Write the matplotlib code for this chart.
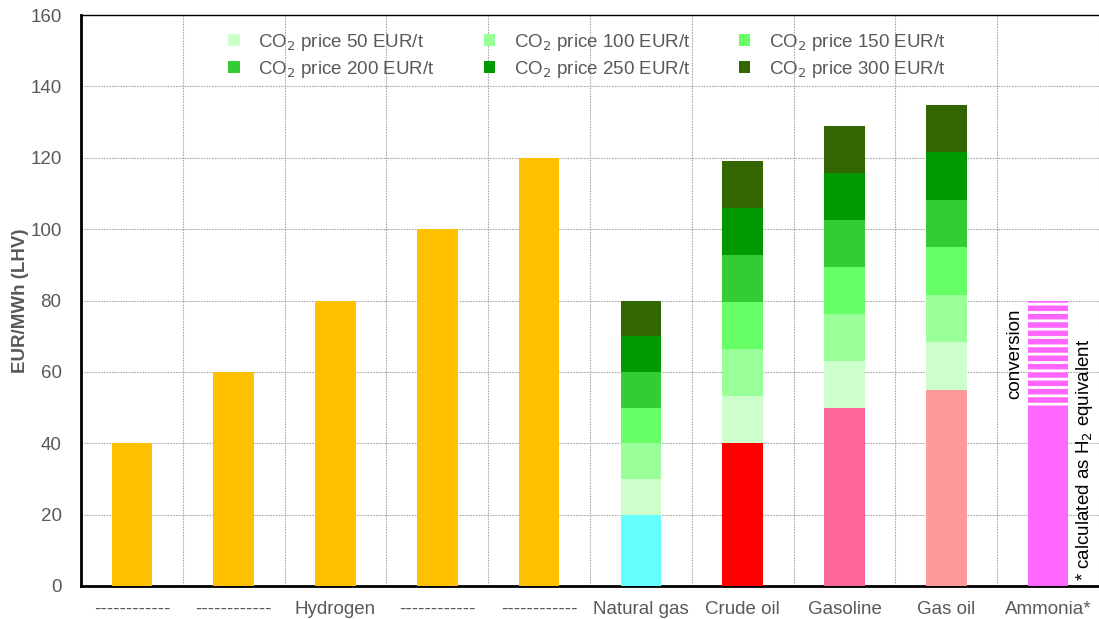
import numpy as np
import matplotlib
matplotlib.use('Agg')
import matplotlib.pyplot as plt

plt.rcParams['font.family'] = ['Liberation Sans', 'DejaVu Sans']
plt.rcParams['hatch.linewidth'] = 2.0

categories = ['------------', '------------', 'Hydrogen', '------------', '------------',
              'Natural gas', 'Crude oil', 'Gasoline', 'Gas oil', 'Ammonia*']

# base cost (EUR/MWh) per category
base = [40, 60, 80, 100, 120, 20, 40, 50, 55, 50]
base_colors = ['#FFC000'] * 5 + ['#66FFFF', '#FF0000', '#FF6699', '#FF9999', '#FF66FF']

# CO2 price add-on per 50 EUR/t step (only fossil fuels)
co2_step = [0, 0, 0, 0, 0, 10.0, 13.2, 13.15, 13.3, 0]
co2_labels = ['CO$_2$ price 50 EUR/t', 'CO$_2$ price 100 EUR/t', 'CO$_2$ price 150 EUR/t',
              'CO$_2$ price 200 EUR/t', 'CO$_2$ price 250 EUR/t', 'CO$_2$ price 300 EUR/t']
co2_colors = ['#CCFFCC', '#99FF99', '#66FF66', '#33CC33', '#009900', '#336600']

# ammonia conversion cost on top of hydrogen equivalent
conversion = [0, 0, 0, 0, 0, 0, 0, 0, 0, 30]

grey = '#595959'
fs = 13.5
x = np.arange(len(categories))
w = 0.4

fig = plt.figure(figsize=(10.99, 6.19), dpi=100)
ax = fig.add_axes([81 / 1099, 33 / 619, 1018 / 1099, 571 / 619])

ax.bar(x, base, w, color=base_colors, zorder=3)
bottom = np.array(base, dtype=float)
step = np.array(co2_step)
handles = []
for lab, col in zip(co2_labels, co2_colors):
    mask = step > 0
    h = ax.bar(x[mask], step[mask], w, bottom=bottom[mask], color=col, label=lab, zorder=3)
    handles.append(h)
    bottom = bottom + step

conv = np.array(conversion)
m = conv > 0
ax.bar(x[m], conv[m], w, bottom=np.array(base)[m], facecolor='#FF66FF',
       edgecolor='white', hatch='--', linewidth=0, zorder=3)

ax.text(9 - 0.33, 65, 'conversion', rotation=90, ha='center', va='center',
        fontsize=fs, color='black')
ax.text(9 + 0.36, 1.5, '* calculated as H$_2$ equivalent', rotation=90, ha='center',
        va='bottom', fontsize=fs, color='black')

ax.set_xlim(-0.5, 9.5)
ax.set_ylim(0, 160)
ax.set_yticks(np.arange(0, 161, 20))
ax.set_xticks(x)
ax.set_xticklabels(categories)
ax.set_xticks(np.arange(-0.5, 9.6, 1), minor=True)
ax.tick_params(axis='both', length=0, labelsize=fs, colors=grey)
ax.tick_params(axis='x', pad=11)
ax.tick_params(axis='y', pad=14)
ax.tick_params(axis='x', which='minor', length=0)
ax.grid(axis='y', which='major', color='#aaaaaa', linestyle=(0, (1.5, 1)), linewidth=0.8, zorder=0)
ax.grid(axis='x', which='minor', color='#aaaaaa', linestyle=(0, (1.5, 1)), linewidth=0.8, zorder=0)
ax.grid(axis='x', which='major', visible=False)

ax.spines['right'].set_visible(False)
ax.spines['left'].set_linewidth(2)
ax.spines['bottom'].set_linewidth(2)
ax.spines['top'].set_linewidth(1)

ax.set_ylabel('EUR/MWh (LHV)', fontsize=fs, fontweight='bold', color=grey, labelpad=1)

# legend fills column-wise, so reorder to read row-wise
order = [0, 3, 1, 4, 2, 5]
leg = ax.legend(handles=[handles[i] for i in order], loc='upper center',
                bbox_to_anchor=(0.497, 1.0), ncol=3,
                frameon=False, fontsize=fs, handlelength=0.6, handleheight=0.6,
                columnspacing=2.6, labelspacing=0.3, handletextpad=1.0)
for t in leg.get_texts():
    t.set_color(grey)

fig.savefig('out.png', dpi=100)
